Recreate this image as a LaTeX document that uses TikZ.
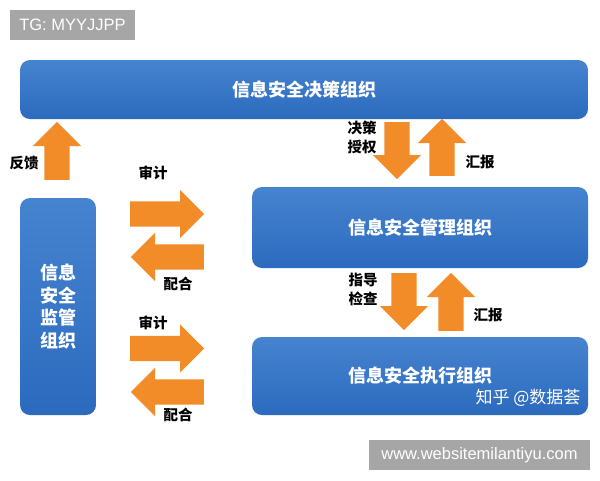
\documentclass[tikz,border=0pt]{standalone}
\usepackage{xcolor}
\usepackage{fontspec}
\setmainfont{Liberation Sans}
\newfontfamily\cjk{Noto Sans CJK SC}
\usepackage{tikz}
\usetikzlibrary{shapes.arrows}

\definecolor{boxtop}{RGB}{70,132,208}
\definecolor{boxbottom}{RGB}{44,106,190}
\definecolor{arroworange}{RGB}{242,140,40}
\definecolor{taggray}{RGB}{166,166,166}

\tikzset{
    orgbox/.style={rounded corners=10pt, top color=boxtop, bottom color=boxbottom, draw=none,
        text=white, font=\cjk\bfseries\fontsize{18}{22.5}\selectfont, align=center, inner sep=0pt},
    fatarrow/.style={single arrow, fill=arroworange, draw=none, inner sep=0pt, inner ysep=12.5pt,
        single arrow head extend=11.5pt, minimum height=#1, anchor=tail},
    flowlabel/.style={font=\cjk\bfseries\fontsize{14.5}{19}\selectfont, align=center, inner sep=0pt},
    tag/.style={fill=taggray, text=white, font=\fontsize{16.5}{18}\selectfont, inner sep=0pt, minimum height=30pt}
}

\begin{document}
\begin{tikzpicture}[x=1pt, y=-1pt]
\useasboundingbox[fill=white] (0,0) rectangle (600,480);

% organisation boxes
\node[orgbox, minimum width=568pt, minimum height=59pt] (decide) at (304,89.5) {信息安全决策组织};
\node[orgbox, minimum width=336pt, minimum height=81pt] (manage) at (420,227.5) {信息安全管理组织};
\node[orgbox, minimum width=336pt, minimum height=78pt] (execute) at (420,376) {信息安全执行组织};
\node[orgbox, minimum width=76pt, minimum height=217pt] (supervise) at (58,306.5) {信息\\安全\\监管\\组织};

% block arrows, placed by their tails
\begin{scope}
    \node[fatarrow=58pt, rotate=90] (feedback) at (57,180) {};
    \node[fatarrow=57pt, rotate=-90] (authorize) at (397,122) {};
    \node[fatarrow=57pt, rotate=90] (reportup) at (442,176) {};
    \node[fatarrow=57pt, rotate=-90] (guide) at (404,273) {};
    \node[fatarrow=58pt, rotate=90] (reportmid) at (451,331) {};
    \node[fatarrow=74pt] (auditmanage) at (130,214) {};
    \node[fatarrow=73pt, rotate=180] (coopmanage) at (204,257) {};
    \node[fatarrow=74pt] (auditexecute) at (130,348.5) {};
    \node[fatarrow=73pt, rotate=180] (coopexecute) at (204,392) {};
\end{scope}

% arrow labels
\node[flowlabel] (fbtext) at (24,163) {反馈};
\node[flowlabel] (audittext1) at (153,173) {审计};
\node[flowlabel] (cooptext1) at (178,284) {配合};
\node[flowlabel] (audittext2) at (153,323) {审计};
\node[flowlabel] (cooptext2) at (178,415) {配合};
\node[flowlabel] (authtext) at (362,137.5) {决策\\授权};
\node[flowlabel] (reporttext1) at (480,162) {汇报};
\node[flowlabel] (guidetext) at (363,289) {指导\\检查};
\node[flowlabel] (reporttext2) at (488,315) {汇报};

% watermark and tags
\node[text=white, font=\cjk\fontsize{17}{20}\selectfont, inner sep=0pt] (zhihu) at (528,398) {知乎 @数据荟};
\node[tag, minimum width=125pt] (tgtag) at (72.5,25) {TG: MYYJJPP};
\node[tag, minimum width=221pt] (webtag) at (479.5,455) {www.websitemilantiyu.com};
\end{tikzpicture}
\end{document}
